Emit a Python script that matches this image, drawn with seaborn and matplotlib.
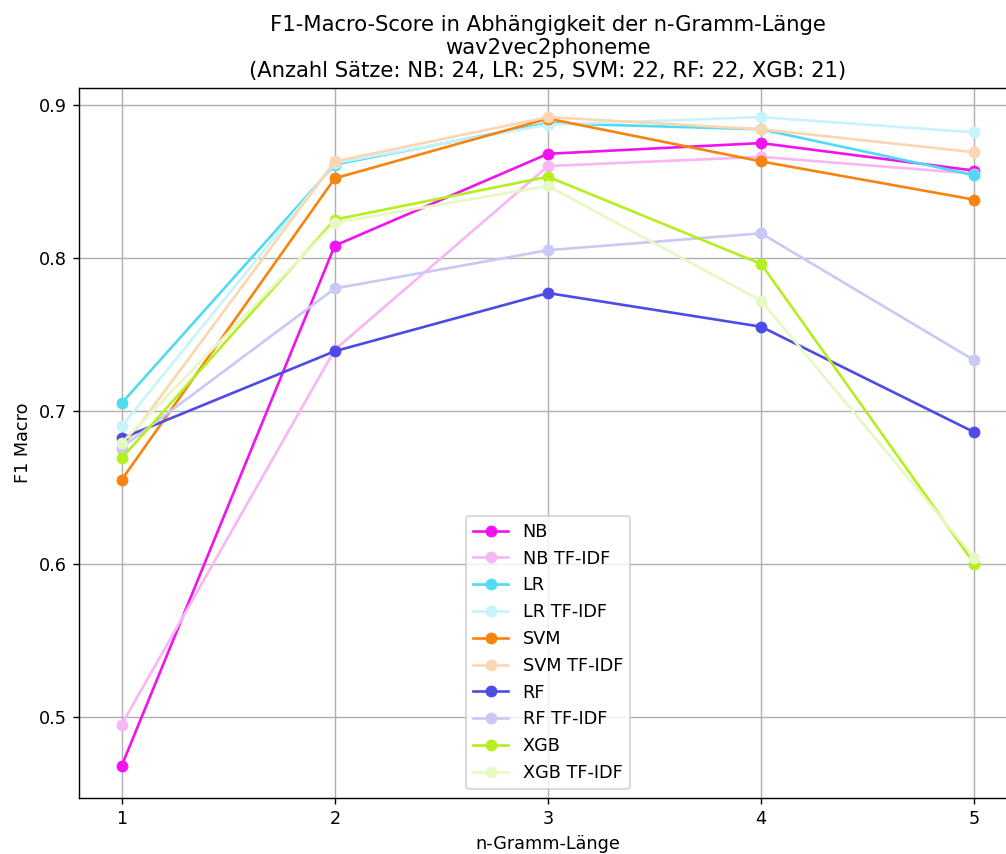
import matplotlib
matplotlib.use("Agg")
import matplotlib.pyplot as plt
import seaborn as sns
import pandas as pd

ngram = [1, 2, 3, 4, 5]
nb = [0.468, 0.808, 0.868, 0.875, 0.857]
nb_tfidf = [0.495, 0.740, 0.860, 0.866, 0.855]
lr = [0.705, 0.861, 0.888, 0.884, 0.854]
lr_tfidf = [0.690, 0.862, 0.887, 0.892, 0.882]
svm = [0.655, 0.852, 0.891, 0.863, 0.838]
svm_tfidf = [0.675, 0.863, 0.892, 0.884, 0.869]
rf = [0.682, 0.739, 0.777, 0.755, 0.686]
rf_tfidf = [0.676, 0.780, 0.805, 0.816, 0.733]
xgb = [0.669, 0.825, 0.853, 0.796, 0.600]
xgb_tfidf = [0.679, 0.823, 0.847, 0.772, 0.604]

labels = ["NB", "NB TF-IDF", "LR", "LR TF-IDF", "SVM", "SVM TF-IDF",
          "RF", "RF TF-IDF", "XGB", "XGB TF-IDF"]
series = [nb, nb_tfidf, lr, lr_tfidf, svm, svm_tfidf, rf, rf_tfidf, xgb, xgb_tfidf]
colors = ["#f012ef", "#f8b6f3", "#4fdbf2", "#c9f3fb", "#f6840f", "#fcd6b1",
          "#4d4be6", "#c9c9f6", "#b4ef1f", "#e7f8c3"]

DPI = 127
fig = plt.figure(figsize=(1006/DPI, 854/DPI), dpi=DPI)
ax = fig.add_axes([79/1006, 56/854, (1017-79)/1006, (798-88)/854])

for lab, vals, col in zip(labels, series, colors):
    df = pd.DataFrame({"n": ngram, "f1": vals})
    sns.lineplot(data=df, x="n", y="f1", ax=ax, color=col, marker="o",
                 markersize=6.2, markeredgecolor=col, markeredgewidth=0.5,
                 linewidth=1.5, label=lab)

ax.set_xlim(0.8, 5.2)
ax.set_ylim(0.447, 0.911)
ax.set_xticks(ngram)
ax.set_yticks([0.5, 0.6, 0.7, 0.8, 0.9])
ax.grid(True, color="#b0b0b0", linewidth=0.8)
ax.set_axisbelow(True)
ax.set_xlabel("n-Gramm-Länge")
ax.set_ylabel("F1 Macro")
ax.set_title("F1-Macro-Score in Abhängigkeit der n-Gramm-Länge\nwav2vec2phoneme\n"
             "(Anzahl Sätze: NB: 24, LR: 25, SVM: 22, RF: 22, XGB: 21)", fontsize=12)
ax.legend(loc="lower center")
fig.savefig("out.png", dpi=DPI)
